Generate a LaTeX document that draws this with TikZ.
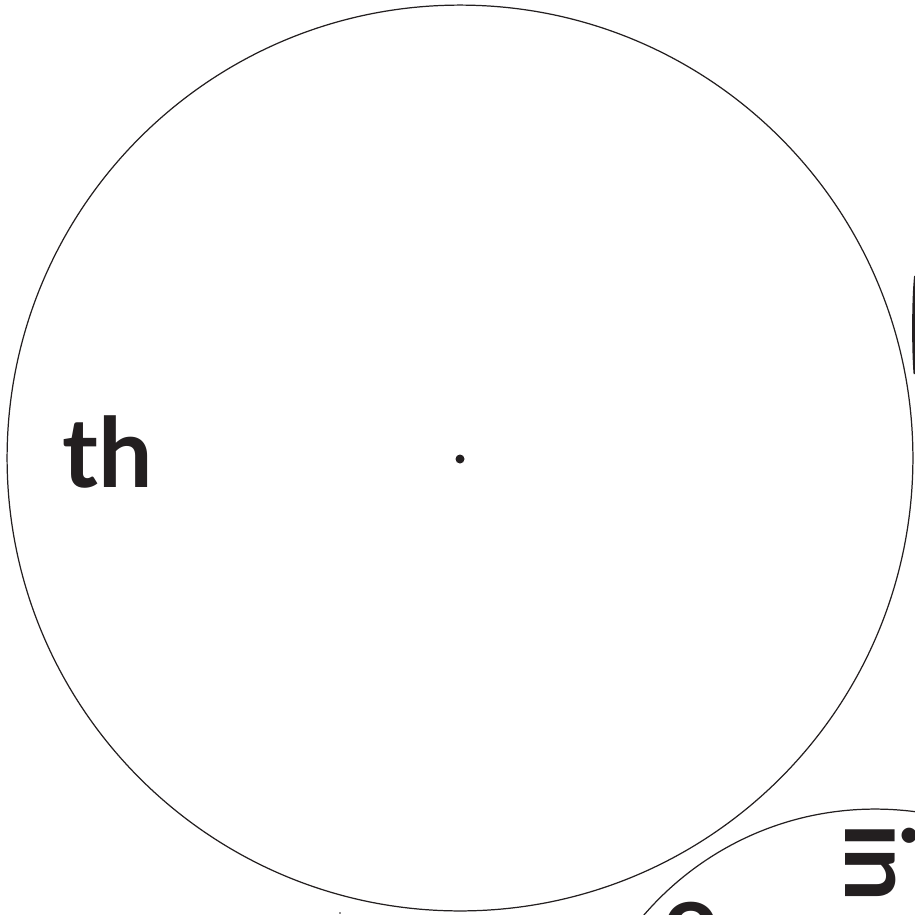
\documentclass[tikz,border=0pt]{standalone}
\usepackage{fontspec}
\setmainfont{Lato}
\definecolor{ink}{HTML}{231F20}
\begin{document}
\begin{tikzpicture}[x=0.02cm,y=-0.02cm,
  bubble/.style={draw=ink,circle,line width=0.7pt,inner sep=0pt},
  word/.style={text=ink,inner sep=0pt,font=\fontsize{55}{55}\selectfont\bfseries}]
\useasboundingbox (0,0) rectangle (915,914);
\clip (0,0) rectangle (915,914);
\node[bubble,minimum size=18.12cm] (big) at (460,458) {};
\node[bubble,minimum size=12.2cm] (small) at (875,1114) {};
\fill[ink] (460,459) circle (4.5) coordinate (dot);
\fill[ink] (340,913) circle (0.8);
\node[word,anchor=base west] (th) at (62,487) {th};
\node[word,anchor=base west,rotate=-90] (in) at (845,823) {in};
\node[word,anchor=base west] (o) at (663,952) {o};
\draw[ink,line width=2.2pt] (916,276) .. controls (913.5,300) and (913.5,350) .. (915.5,374);
\end{tikzpicture}
\end{document}
